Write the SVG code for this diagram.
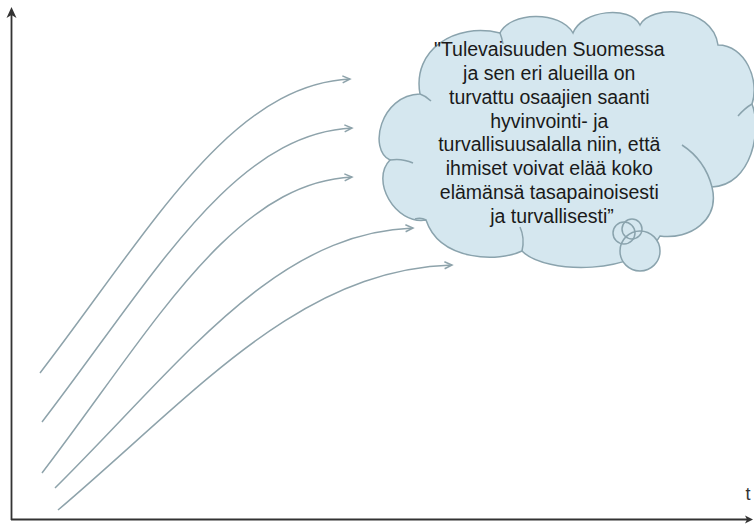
<svg xmlns="http://www.w3.org/2000/svg" width="754" height="524" viewBox="0 0 754 524">
<style>
.axis{stroke:#333;stroke-width:1.8;fill:none}
.flow{stroke:#8ea3ab;stroke-width:1.5;fill:none}
.cloud{fill:#d5e7ef;stroke:#8aa3ad;stroke-width:1.5}
.curl{fill:none;stroke:#8aa3ad;stroke-width:1.5}
.txt{font-family:"Liberation Sans",Arial,sans-serif;font-size:19.5px;fill:#1a1a1a;text-anchor:middle}
</style>
<defs>
<marker id="chev" markerWidth="10" markerHeight="10" refX="8" refY="4" orient="auto" markerUnits="userSpaceOnUse">
<path d="M0.5,0.5 L8,4 L0.5,7.5" fill="none" stroke="#8ea3ab" stroke-width="1.5"/>
</marker>
</defs>
<rect width="754" height="524" fill="#fff"/>
<g id="axes">
<path class="axis" d="M11.5,520 L11.5,14"/>
<path d="M11.5,7 L6.5,18 L11.5,15 L16.5,18 Z" fill="#333"/>
<path class="axis" d="M11,519.5 L748,519.5"/>
<path d="M753,519.5 L745,515.5 L747,519.5 L745,523.5 Z" fill="#333"/>
<text x="748" y="500" font-family="Liberation Sans,Arial,sans-serif" font-size="18" fill="#333" text-anchor="middle">t</text>
</g>
<g id="connectors">
<path class="flow" marker-end="url(#chev)" d="M40,373 C150,230 230,85 350,79"/>
<path class="flow" marker-end="url(#chev)" d="M42,422 C152,279 232,134 352,128"/>
<path class="flow" marker-end="url(#chev)" d="M42,473 C152,329 232,183 352,177"/>
<path class="flow" marker-end="url(#chev)" d="M55,488 C182,362 274,233 413,228"/>
<path class="flow" marker-end="url(#chev)" d="M58,510 C198,391 299,270 452,265"/>
</g>
<g id="cloud">
<path class="cloud" d="M390,160 C368,150 380,95 420,94 C412,50 455,22 500,33 C510,12 560,10 573,33 C582,10 630,5 640,25 C650,5 712,5 718,45 C745,45 760,80 752,104 C762,130 752,185 712,187 C720,220 690,240 660,236 C640,275 545,275 522,251 C500,262 440,262 426,220 C395,225 370,180 390,160 Z"/>
<path class="curl" d="M390,160 Q402,158 413,163"/>
<path class="curl" d="M420,94 Q426,96 431,101"/>
<path class="curl" d="M500,33 Q502,38 503,44"/>
<path class="curl" d="M752,104 Q745,108 738,116"/>
<path class="curl" d="M682,145 Q705,160 712,187"/>
<path class="curl" d="M520,227 Q525,238 522,251"/>
<path class="curl" d="M426,220 Q421,217 415,219"/>
<circle class="cloud" cx="640" cy="251" r="20"/>
<circle class="curl" cx="624" cy="233" r="11"/>
<circle class="curl" cx="632" cy="229" r="10"/>
<text class="txt">
<tspan x="552" y="56">"Tulevaisuuden Suomessa</tspan>
<tspan x="552" y="80">ja sen eri alueilla on</tspan>
<tspan x="552" y="104">turvattu osaajien saanti</tspan>
<tspan x="552" y="128">hyvinvointi- ja</tspan>
<tspan x="552" y="151">turvallisuusalalla niin, että</tspan>
<tspan x="552" y="175">ihmiset voivat elää koko</tspan>
<tspan x="552" y="199">elämänsä tasapainoisesti</tspan>
<tspan x="552" y="223">ja turvallisesti”</tspan>
</text>
</g>
</svg>
